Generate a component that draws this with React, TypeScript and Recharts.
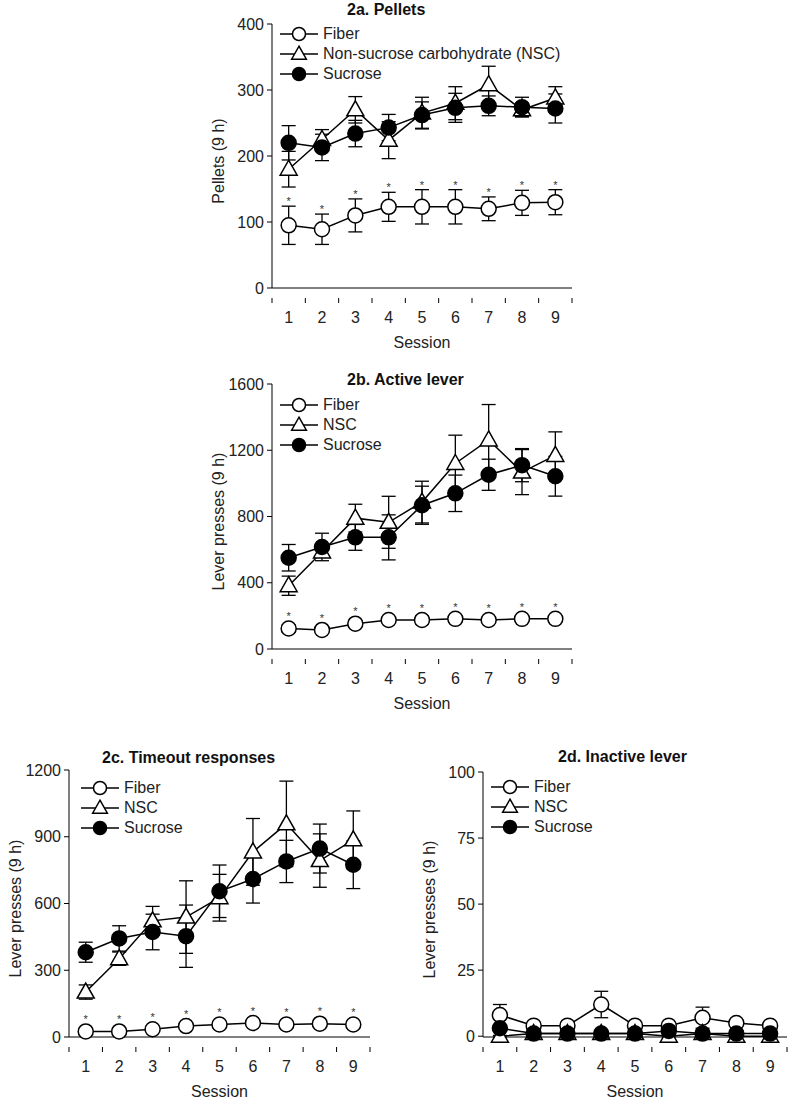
import React from 'react';
import { LineChart, Line, XAxis, YAxis, ErrorBar, Legend, LabelList, Label } from 'recharts';

const sessions = [1, 2, 3, 4, 5, 6, 7, 8, 9];

// 2a. Pellets
const pelletsFiber = [95, 89, 110, 123, 123, 123, 120, 129, 130];
const pelletsFiberErr = [29, 23, 25, 22, 26, 26, 18, 19, 19];
const pelletsNsc = [180, 225, 270, 224, 265, 280, 308, 270, 288];
const pelletsNscErr = [27, 15, 20, 28, 24, 25, 28, 10, 17];
const pelletsSucrose = [220, 213, 234, 243, 262, 273, 276, 274, 272];
const pelletsSucroseErr = [26, 20, 20, 20, 20, 22, 15, 15, 22];

// 2b. Active lever
const activeFiber = [124, 115, 153, 175, 175, 182, 175, 182, 182];
const activeFiberErr = [22, 12, 18, 15, 25, 20, 12, 12, 12];
const activeNsc = [382, 586, 790, 765, 887, 1120, 1262, 1068, 1169];
const activeNscErr = [58, 25, 84, 157, 126, 171, 214, 136, 142];
const activeSucrose = [551, 616, 674, 674, 868, 940, 1052, 1110, 1043];
const activeSucroseErr = [80, 83, 78, 136, 115, 110, 94, 100, 120];

// 2c. Timeout responses
const timeoutFiber = [25, 25, 35, 49, 56, 63, 56, 60, 56];
const timeoutFiberErr = [8, 8, 8, 8, 8, 8, 8, 8, 8];
const timeoutNsc = [202, 352, 522, 539, 626, 832, 958, 793, 886];
const timeoutNscErr = [32, 30, 65, 163, 105, 150, 192, 120, 130];
const timeoutSucrose = [381, 443, 472, 453, 655, 710, 789, 847, 774];
const timeoutSucroseErr = [45, 57, 80, 140, 118, 108, 95, 110, 107];

// 2d. Inactive lever
const inactiveFiber = [8, 4, 4, 12, 4, 4, 7, 5, 4];
const inactiveFiberErr = [4, 0.5, 0.5, 5, 0.5, 0.5, 4, 0.5, 0.5];
const inactiveNsc = [0, 1, 1, 1, 1, 0, 1, 0, 0];
const inactiveNscErr = [0.3, 0.3, 0.3, 0.3, 0.3, 0.3, 0.3, 0.3, 0.3];
const inactiveSucrose = [3, 1, 1, 1, 1, 2, 1, 1, 1];
const inactiveSucroseErr = [0.5, 0.5, 0.5, 0.5, 0.5, 0.5, 0.5, 0.5, 0.5];

const FONT = 'Arial, "Liberation Sans", Helvetica, sans-serif';
const R = 7.5;

const buildRows = (f: number[], fe: number[], n: number[], ne: number[], s: number[], se: number[]) =>
  sessions.map((session, i) => ({
    session,
    fiber: f[i],
    fiberErr: fe[i],
    nsc: n[i],
    nscErr: ne[i],
    sucrose: s[i],
    sucroseErr: se[i],
  }));

const panels = [
  {
    id: 'a',
    title: '2a. Pellets',
    titleX: 347,
    titleY: 10,
    yLabel: 'Pellets (9 h)',
    plot: { x: 272, y: 24, w: 300, h: 274 },
    yMax: 400,
    yTicks: [0, 100, 200, 300, 400],
    legend: { dx: 8, dy: 10 },
    nscName: 'Non-sucrose carbohydrate (NSC)',
    stars: true,
    rows: buildRows(pelletsFiber, pelletsFiberErr, pelletsNsc, pelletsNscErr, pelletsSucrose, pelletsSucroseErr),
  },
  {
    id: 'b',
    title: '2b. Active lever',
    titleX: 347,
    titleY: 380,
    yLabel: 'Lever presses (9 h)',
    plot: { x: 272, y: 384, w: 300, h: 275 },
    yMax: 1600,
    yTicks: [0, 400, 800, 1200, 1600],
    legend: { dx: 8, dy: 21 },
    nscName: 'NSC',
    stars: true,
    rows: buildRows(activeFiber, activeFiberErr, activeNsc, activeNscErr, activeSucrose, activeSucroseErr),
  },
  {
    id: 'c',
    title: '2c. Timeout responses',
    titleX: 102,
    titleY: 758,
    yLabel: 'Lever presses (9 h)',
    plot: { x: 69, y: 770, w: 301, h: 277 },
    yMax: 1200,
    yTicks: [0, 300, 600, 900, 1200],
    legend: { dx: 12, dy: 18 },
    nscName: 'NSC',
    stars: true,
    rows: buildRows(timeoutFiber, timeoutFiberErr, timeoutNsc, timeoutNscErr, timeoutSucrose, timeoutSucroseErr),
  },
  {
    id: 'd',
    title: '2d. Inactive lever',
    titleX: 558,
    titleY: 757,
    yLabel: 'Lever presses (9 h)',
    plot: { x: 483, y: 772, w: 304, h: 275 },
    yMax: 100,
    yTicks: [0, 25, 50, 75, 100],
    legend: { dx: 8, dy: 15 },
    nscName: 'NSC',
    stars: false,
    rows: buildRows(inactiveFiber, inactiveFiberErr, inactiveNsc, inactiveNscErr, inactiveSucrose, inactiveSucroseErr),
  },
];

const marker = (kind: string, cx: number, cy: number, r: number, key?: string) => {
  if (kind === 'triangle') {
    const k = r / 7.5;
    return (
      <path
        key={key}
        d={`M${cx},${cy - 9 * k} L${cx + 8.5 * k},${cy + 6 * k} L${cx - 8.5 * k},${cy + 6 * k} Z`}
        fill="#fff"
        stroke="#000"
        strokeWidth={1.5}
      />
    );
  }
  return (
    <circle
      key={key}
      cx={cx}
      cy={cy}
      r={r}
      fill={kind === 'filled' ? '#000' : '#fff'}
      stroke="#000"
      strokeWidth={1.5}
    />
  );
};

const dotOf = (kind: string) => (p: any) =>
  p.cx == null || p.cy == null ? <g key={`e${p.index}`} /> : marker(kind, p.cx, p.cy, R, `${kind}${p.index}`);

const kinds = ['open', 'triangle', 'filled'];

function Panel({ cfg }: { cfg: (typeof panels)[number] }) {
  const { plot } = cfg;
  const W = plot.w + 80;
  const H = plot.h + 65;
  const band = plot.w / 9;
  const baseY = 10 + plot.h;
  const rUnits = (R * cfg.yMax) / plot.h;

  const XTick = (p: any) => {
    const x = p.x;
    return (
      <g>
        <line x1={x + band / 2} y1={baseY} x2={x + band / 2} y2={baseY + 5} stroke="#000" />
        {p.index === 0 && <line x1={x - band / 2} y1={baseY} x2={x - band / 2} y2={baseY + 5} stroke="#000" />}
        <text x={x} y={baseY + 19} textAnchor="middle" dominantBaseline="central" fontSize={16} fill="#222" fontFamily={FONT}>
          {p.payload.value}
        </text>
      </g>
    );
  };

  const Star = (p: any) => (
    <text x={p.x} y={p.y - 1} textAnchor="middle" fontSize={11} fill="#333" fontFamily={FONT}>
      *
    </text>
  );

  const LegendBox = (p: any) => {
    const items = (p.payload || []).filter((e: any) => e.value);
    return (
      <div style={{ fontFamily: FONT }}>
        {items.map((e: any, i: number) => (
          <div key={i} style={{ display: 'flex', alignItems: 'center', height: 20 }}>
            <svg width={38} height={20} style={{ display: 'block' }}>
              <line x1={0} y1={10} x2={38} y2={10} stroke="#000" strokeWidth={1.5} />
              {marker(kinds[i], 19, 10, 6.5)}
            </svg>
            <span style={{ marginLeft: 5, fontSize: 16, color: '#222', whiteSpace: 'nowrap', lineHeight: '20px' }}>
              {e.value}
            </span>
          </div>
        ))}
      </div>
    );
  };

  const YTitle = () => {
    const cx = 70 - 54;
    const cy = 10 + plot.h / 2;
    return (
      <text
        x={cx}
        y={cy}
        transform={`rotate(-90, ${cx}, ${cy})`}
        textAnchor="middle"
        dominantBaseline="central"
        fontSize={16}
        fill="#222"
        fontFamily={FONT}
      >
        {cfg.yLabel}
      </text>
    );
  };

  const XTitle = () => (
    <text
      x={70 + plot.w / 2}
      y={baseY + 44}
      textAnchor="middle"
      dominantBaseline="central"
      fontSize={16}
      fill="#222"
      fontFamily={FONT}
    >
      Session
    </text>
  );

  return (
    <>
      <div
        style={{
          position: 'absolute',
          left: cfg.titleX,
          top: cfg.titleY - 9,
          lineHeight: '18px',
          fontSize: 16,
          fontWeight: 'bold',
          fontFamily: FONT,
          whiteSpace: 'nowrap',
          color: '#111',
        }}
      >
        {cfg.title}
      </div>
      <div style={{ position: 'absolute', left: plot.x - 70, top: plot.y - 10 }}>
        <LineChart width={W} height={H} data={cfg.rows} margin={{ top: 10, right: 10, bottom: 35, left: 10 }}>
          <XAxis
            type="number"
            dataKey="session"
            domain={[0.5, 9.5]}
            ticks={sessions}
            interval={0}
            height={30}
            tickLine={false}
            axisLine={{ stroke: '#000', strokeWidth: 1 }}
            tick={XTick}
          >
            <Label content={XTitle} />
          </XAxis>
          <YAxis
            type="number"
            domain={[0, cfg.yMax]}
            ticks={cfg.yTicks}
            interval={0}
            width={60}
            tickSize={5}
            tickMargin={3}
            axisLine={{ stroke: '#000', strokeWidth: 1 }}
            tickLine={{ stroke: '#000' }}
            tick={{ fontSize: 16, fill: '#222', fontFamily: FONT }}
          >
            <Label content={YTitle} />
          </YAxis>
          <Legend
            layout="horizontal"
            verticalAlign="middle"
            align="center"
            wrapperStyle={{ top: cfg.legend.dy, left: 70 + cfg.legend.dx, width: 'auto', margin: 0 }}
            content={LegendBox}
          />
          <Line
            dataKey="fiber"
            name="Fiber"
            stroke="#000"
            strokeWidth={1.5}
            dot={dotOf('open')}
            activeDot={false}
            isAnimationActive={false}
          >
            <ErrorBar dataKey="fiberErr" width={7} stroke="#000" strokeWidth={1.3} direction="y" />
          </Line>
          <Line
            dataKey="nsc"
            name={cfg.nscName}
            stroke="#000"
            strokeWidth={1.5}
            dot={dotOf('triangle')}
            activeDot={false}
            isAnimationActive={false}
          >
            <ErrorBar dataKey="nscErr" width={7} stroke="#000" strokeWidth={1.3} direction="y" />
          </Line>
          <Line
            dataKey="sucrose"
            name="Sucrose"
            stroke="#000"
            strokeWidth={1.5}
            dot={dotOf('filled')}
            activeDot={false}
            isAnimationActive={false}
          >
            <ErrorBar dataKey="sucroseErr" width={7} stroke="#000" strokeWidth={1.3} direction="y" />
          </Line>
          {cfg.stars && (
            <Line
              dataKey={(d: any) => d.fiber + Math.max(d.fiberErr, rUnits)}
              stroke="none"
              dot={false}
              activeDot={false}
              legendType="none"
              isAnimationActive={false}
            >
              <LabelList content={Star} />
            </Line>
          )}
        </LineChart>
      </div>
    </>
  );
}

export default function App() {
  return (
    <div style={{ position: 'absolute', left: 0, top: 0, width: 800, height: 1108, background: '#fff', overflow: 'hidden' }}>
      {panels.map((cfg) => (
        <Panel key={cfg.id} cfg={cfg} />
      ))}
    </div>
  );
}
